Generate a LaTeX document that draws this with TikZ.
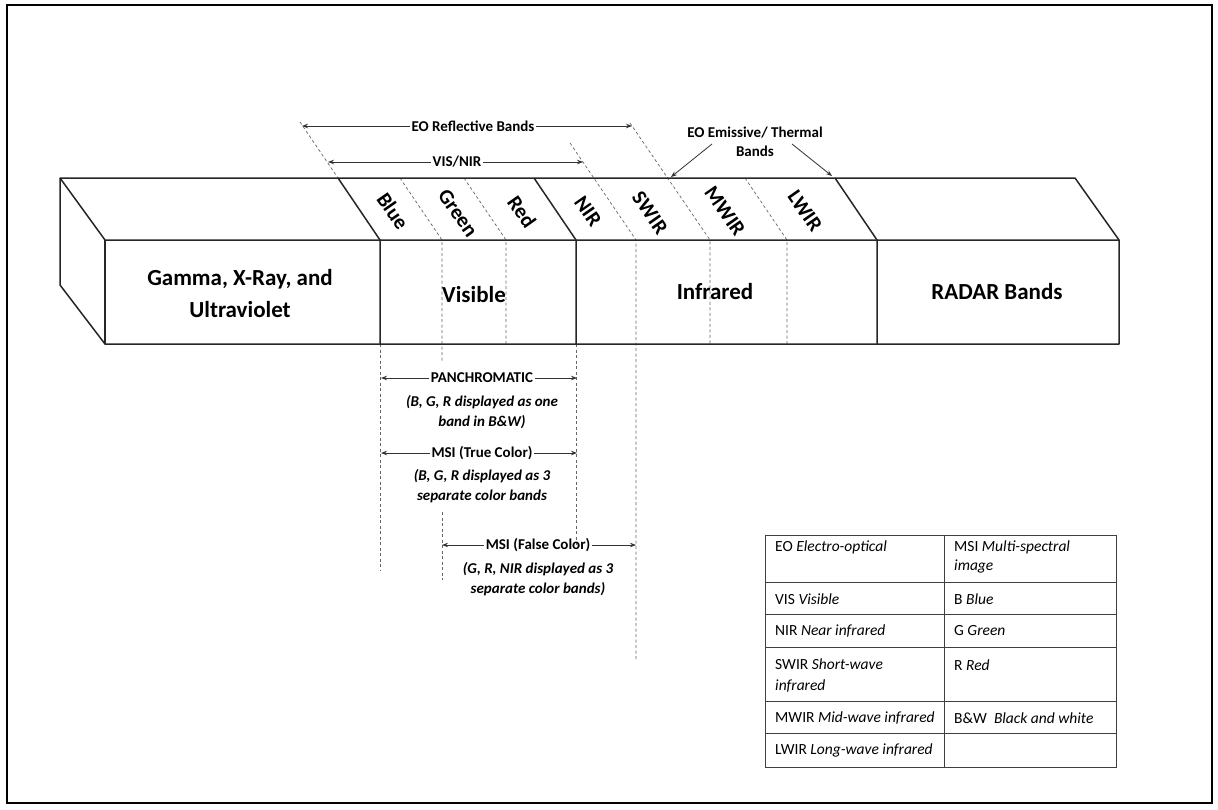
\documentclass[tikz,border=0pt]{standalone}
\usepackage{fontspec}
\setmainfont{Carlito}
\usetikzlibrary{arrows.meta}
\begin{document}
\begin{tikzpicture}[x=1pt,y=-1pt,
 box/.style={line width=1.5pt, draw=black!85, line join=round},
 guide/.style={draw=black!60, line width=0.7pt, dash pattern=on 3pt off 2.5pt},
 arr/.style={draw=black!80, line width=0.8pt, -{Stealth[length=6pt,width=4.5pt]}},
 lbl/.style={font=\fontsize{15}{17}\selectfont\bfseries, inner sep=1.5pt},
 sub/.style={font=\fontsize{15}{20}\selectfont\bfseries\itshape, align=center, inner sep=0pt},
 bandlbl/.style={font=\fontsize{21}{22}\selectfont\bfseries, rotate=-55, inner sep=0pt},
 big/.style={font=\fontsize{23}{32}\selectfont\bfseries, align=center},
 cell/.style={font=\fontsize{15.5}{19}\selectfont, anchor=west, inner sep=0pt, align=left},
 tbl/.style={draw=black!75, line width=1pt}
 ]
\useasboundingbox (0,0) rectangle (1218,809);
\draw[line width=2pt] (7,5) rectangle (1212,803);

% ---- guide (dashed) lines
\draw[guide] (300,122) -- (338,178);
\draw[guide] (380,344) -- (380,570);
\draw[guide] (400,178) -- (442,240) -- (442,362);
\draw[guide] (442,512) -- (442,580);
\draw[guide] (464,178) -- (506,240) -- (506,344);
\draw[guide] (576,344) -- (576,545);
\draw[guide] (570,143) -- (636,240) -- (636,660);
\draw[guide] (630,123) -- (710,240) -- (710,344);
\draw[guide] (745,178) -- (787,240) -- (787,344);

% ---- prism
\draw[box] (60,178) -- (1075,178) -- (1119,240) -- (1119,344) -- (105,344) -- (60,285) -- cycle;
\draw[box] (60,178) -- (105,240) -- (1119,240);
\draw[box] (105,240) -- (105,344);
\draw[box] (338,178) -- (380,240) -- (380,344);
\draw[box] (534,178) -- (576,240) -- (576,344);
\draw[box] (835,178) -- (877,240) -- (877,344);

% ---- main labels
\node[big] (gamma) at (240,294) {Gamma, X-Ray, and\\Ultraviolet};
\node[big] (visible) at (474,295) {Visible};
\node[big] (infrared) at (715,292) {Infrared};
\node[big] (radar) at (997,292) {RADAR Bands};

% ---- band labels
\node[bandlbl] (blue) at (393,211) {Blue};
\node[bandlbl] (green) at (458,213) {Green};
\node[bandlbl] (red) at (522,212) {Red};
\node[bandlbl] (nir) at (588,211) {NIR};
\node[bandlbl] (swir) at (650,213) {SWIR};
\node[bandlbl] (mwir) at (725,211) {MWIR};
\node[bandlbl] (lwir) at (805,211) {LWIR};

% ---- top dimension arrows
\coordinate (eoL) at (302,126);
\coordinate (eoR) at (632,126);
\node[lbl] (eo) at (473,126) {EO Reflective Bands};
\draw[arr] (eo.west) -- (eoL);
\draw[arr] (eo.east) -- (eoR);

\coordinate (vnL) at (328,162);
\coordinate (vnR) at (583,162);
\node[lbl] (vn) at (457,162) {VIS/NIR};
\draw[arr] (vn.west) -- (vnL);
\draw[arr] (vn.east) -- (vnR);

\node[lbl, align=center, font=\fontsize{15}{19}\selectfont\bfseries] (emis) at (755,142) {EO Emissive/ Thermal\\Bands};
\coordinate (emAs) at (712,144);
\coordinate (emBs) at (792,144);
\coordinate (emA) at (671,177);
\coordinate (emB) at (832,176);
\draw[arr] (emAs) -- (emA);
\draw[arr] (emBs) -- (emB);

% ---- lower dimension arrows
\coordinate (pL) at (381,378);
\coordinate (pR) at (577,378);
\node[lbl] (pan) at (482,378) {PANCHROMATIC};
\draw[arr] (pan.west) -- (pL);
\draw[arr] (pan.east) -- (pR);
\node[sub] (pansub) at (482,412) {(B, G, R displayed  as one\\band  in B\&W)};

\coordinate (tL) at (381,453);
\coordinate (tR) at (577,453);
\node[lbl] (tc) at (482,453) {MSI (True Color)};
\draw[arr] (tc.west) -- (tL);
\draw[arr] (tc.east) -- (tR);
\node[sub] (tcsub) at (482,486) {(B, G, R displayed  as 3\\separate color bands};

\coordinate (fL) at (442,545);
\coordinate (fR) at (636,545);
\node[lbl] (fc) at (538,545) {MSI (False Color)};
\draw[arr] (fc.west) -- (fL);
\draw[arr] (fc.east) -- (fR);
\node[sub] (fcsub) at (538,579) {(G, R, NIR displayed  as 3\\separate color bands)};

% ---- table
\draw[tbl] (765,535) rectangle (1116,767);
\draw[tbl] (944,535) -- (944,767);
\foreach \yy in {582,614,647,701,733} \draw[tbl] (765,\yy) -- (1116,\yy);
\node[cell] (t1a) at (775,547) {EO \textit{Electro-optical}};
\node[cell] (t1b) at (954,556.5) {MSI \textit{Multi-spectral}\\\textit{image}};
\node[cell] (t2a) at (775,599) {VIS \textit{Visible}};
\node[cell] (t2b) at (954,599) {B \textit{Blue}};
\node[cell] (t3a) at (775,631) {NIR \textit{Near infrared}};
\node[cell] (t3b) at (954,631) {G \textit{Green}};
\node[cell, font=\fontsize{15.5}{21}\selectfont] (t4a) at (775,675.5) {SWIR \textit{Short-wave}\\\textit{infrared}};
\node[cell] (t4b) at (954,665) {R \textit{Red}};
\node[cell] (t5a) at (775,718) {MWIR \textit{Mid-wave infrared}};
\node[cell] (t5b) at (954,718) {B\&W~~\textit{Black and white}};
\node[cell] (t6a) at (775,750) {LWIR \textit{Long-wave infrared}};
\end{tikzpicture}
\end{document}
